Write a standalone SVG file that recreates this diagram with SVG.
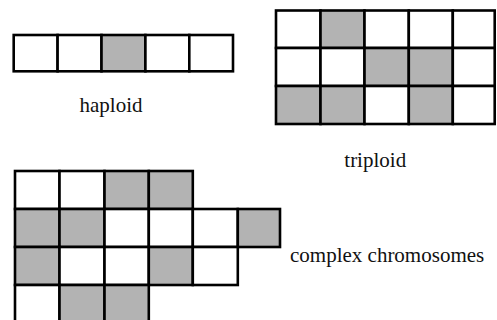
<svg xmlns="http://www.w3.org/2000/svg" width="497" height="320" viewBox="0 0 497 320">
<style>
.c{fill:#fff;stroke:#000;stroke-width:2.6}
.g{fill:#b3b3b3;stroke:#000;stroke-width:2.6}
.t{font-family:"Liberation Serif","Times New Roman",serif;font-size:21px;fill:#111}
</style>
<rect width="497" height="320" fill="#fff"/>
<g id="haploid">
<rect class="c" x="13.7" y="35" width="43.9" height="36.3"/>
<rect class="c" x="57.6" y="35" width="43.9" height="36.3"/>
<rect class="g" x="101.5" y="35" width="43.9" height="36.3"/>
<rect class="c" x="145.4" y="35" width="43.9" height="36.3"/>
<rect class="c" x="189.3" y="35" width="43.7" height="36.3"/>
</g>
<g id="triploid">
<rect class="c" x="276" y="10.5" width="44.5" height="37.5"/>
<rect class="g" x="320.5" y="10.5" width="44" height="37.5"/>
<rect class="c" x="364.5" y="10.5" width="44.3" height="37.5"/>
<rect class="c" x="408.8" y="10.5" width="44" height="37.5"/>
<rect class="c" x="452.8" y="10.5" width="41.9" height="37.5"/>
<rect class="c" x="276" y="48" width="44.5" height="38"/>
<rect class="c" x="320.5" y="48" width="44" height="38"/>
<rect class="g" x="364.5" y="48" width="44.3" height="38"/>
<rect class="g" x="408.8" y="48" width="44" height="38"/>
<rect class="c" x="452.8" y="48" width="41.9" height="38"/>
<rect class="g" x="276" y="86" width="44.5" height="38"/>
<rect class="g" x="320.5" y="86" width="44" height="38"/>
<rect class="c" x="364.5" y="86" width="44.3" height="38"/>
<rect class="g" x="408.8" y="86" width="44" height="38"/>
<rect class="c" x="452.8" y="86" width="41.9" height="38"/>
</g>
<g id="complex">
<rect class="c" x="15" y="171" width="44.5" height="38"/>
<rect class="c" x="59.5" y="171" width="45" height="38"/>
<rect class="g" x="104.5" y="171" width="44.3" height="38"/>
<rect class="g" x="148.8" y="171" width="44" height="38"/>
<rect class="g" x="15" y="209" width="44.5" height="38"/>
<rect class="g" x="59.5" y="209" width="45" height="38"/>
<rect class="c" x="104.5" y="209" width="44.3" height="38"/>
<rect class="c" x="148.8" y="209" width="44" height="38"/>
<rect class="c" x="192.8" y="209" width="45" height="38"/>
<rect class="g" x="237.8" y="209" width="42.2" height="38"/>
<rect class="g" x="15" y="247" width="44.5" height="38"/>
<rect class="c" x="59.5" y="247" width="45" height="38"/>
<rect class="c" x="104.5" y="247" width="44.3" height="38"/>
<rect class="g" x="148.8" y="247" width="44" height="38"/>
<rect class="c" x="192.8" y="247" width="45" height="38"/>
<rect class="c" x="15" y="285" width="44.5" height="38"/>
<rect class="g" x="59.5" y="285" width="45" height="38"/>
<rect class="g" x="104.5" y="285" width="44.3" height="38"/>
</g>
<g id="labels">
<text class="t" x="79.5" y="112">haploid</text>
<text class="t" x="344.3" y="167">triploid</text>
<text class="t" x="290" y="261.5">complex chromosomes</text>
</g>
</svg>
